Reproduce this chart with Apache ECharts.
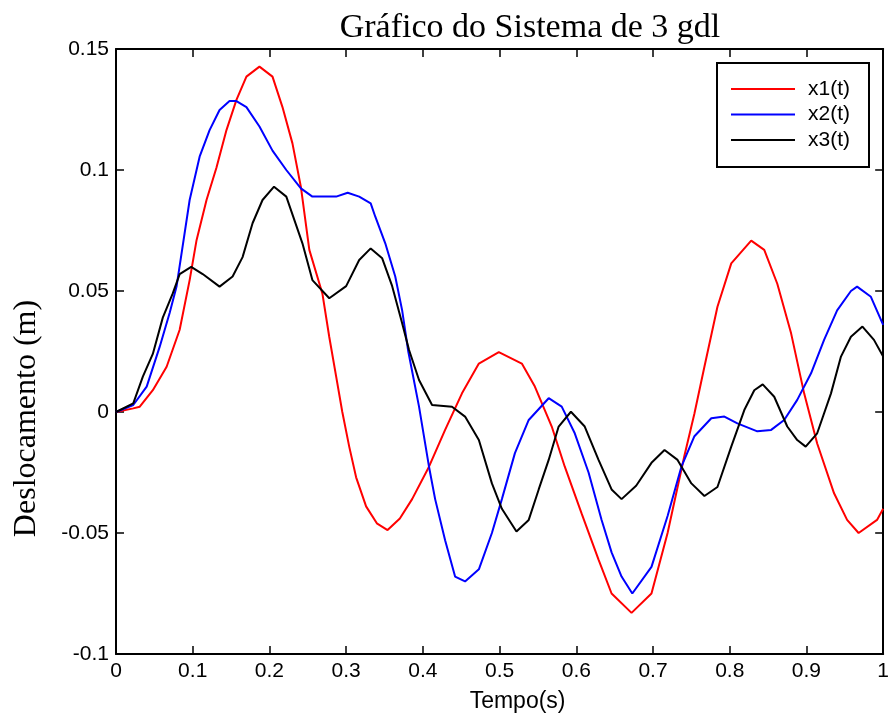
<!DOCTYPE html>
<html><head><meta charset="utf-8">
<script src="https://cdn.jsdelivr.net/npm/echarts@6/dist/echarts.min.js"></script>
<style>html,body{margin:0;padding:0;background:#fff}#c{width:892px;height:719px}</style>
</head><body><div id="c"></div>
<script>
const titleText = "Gráfico do Sistema de 3 gdl";
const xName = "Tempo(s)";
const yName = "Deslocamento (m)";
const seriesNames = ["x1(t)", "x2(t)", "x3(t)"];

const t1 = [0,0.0225,0.031,0.048,0.066,0.083,0.096,0.105,0.118,0.131,0.144,0.157,0.17,0.187,0.204,0.217,0.23,0.241,0.252,0.269,0.278,0.287,0.295,0.304,0.313,0.326,0.34,0.354,0.37,0.386,0.408,0.429,0.451,0.473,0.499,0.529,0.546,0.568,0.585,0.607,0.629,0.646,0.672,0.698,0.719,0.741,0.754,0.767,0.784,0.802,0.828,0.845,0.862,0.88,0.897,0.914,0.936,0.953,0.968,0.992,1.0];
const x1 = [0,0.0015,0.0022,0.009,0.0187,0.034,0.0545,0.071,0.0876,0.101,0.1165,0.129,0.1386,0.1427,0.1386,0.126,0.111,0.093,0.067,0.049,0.031,0.0146,0,-0.0143,-0.027,-0.039,-0.046,-0.0488,-0.044,-0.036,-0.0226,-0.0074,0.0077,0.02,0.0247,0.02,0.0105,-0.006,-0.0226,-0.042,-0.061,-0.075,-0.083,-0.075,-0.05,-0.018,-0.0006,0.0187,0.0435,0.0614,0.0708,0.067,0.053,0.0325,0.0077,-0.013,-0.0336,-0.0446,-0.05,-0.0446,-0.04];

const t2 = [0,0.0225,0.04,0.057,0.07,0.079,0.096,0.109,0.122,0.135,0.148,0.157,0.17,0.187,0.204,0.222,0.241,0.256,0.287,0.302,0.317,0.332,0.338,0.351,0.364,0.373,0.381,0.395,0.408,0.416,0.429,0.442,0.455,0.473,0.49,0.503,0.52,0.538,0.564,0.581,0.598,0.616,0.633,0.646,0.659,0.673,0.698,0.719,0.737,0.754,0.776,0.793,0.81,0.836,0.854,0.871,0.888,0.906,0.923,0.94,0.958,0.966,0.984,1.0];
const x2 = [0,0.0029,0.0105,0.027,0.041,0.052,0.0876,0.1055,0.1165,0.1248,0.1285,0.1285,0.126,0.118,0.108,0.1,0.0924,0.089,0.089,0.0906,0.089,0.0862,0.0807,0.0697,0.056,0.042,0.025,0.0022,-0.0226,-0.036,-0.053,-0.068,-0.07,-0.065,-0.05,-0.036,-0.017,-0.0033,0.0057,0.0022,-0.0088,-0.025,-0.0446,-0.058,-0.068,-0.075,-0.064,-0.043,-0.0226,-0.01,-0.0026,-0.0019,-0.0047,-0.008,-0.0074,-0.0033,0.005,0.016,0.0298,0.042,0.05,0.0518,0.0476,0.036];

const t3 = [0,0.0225,0.035,0.048,0.061,0.074,0.083,0.098,0.113,0.135,0.152,0.165,0.178,0.191,0.206,0.222,0.243,0.256,0.278,0.3,0.317,0.332,0.347,0.36,0.373,0.382,0.395,0.412,0.438,0.455,0.473,0.49,0.503,0.522,0.538,0.551,0.564,0.577,0.593,0.611,0.629,0.646,0.659,0.678,0.698,0.715,0.732,0.75,0.767,0.784,0.802,0.819,0.832,0.843,0.858,0.875,0.888,0.899,0.914,0.932,0.945,0.958,0.973,0.988,1.0];
const x3 = [0,0.0036,0.0146,0.024,0.039,0.049,0.057,0.06,0.057,0.0518,0.056,0.064,0.078,0.0876,0.0931,0.089,0.0697,0.0545,0.047,0.052,0.0628,0.0676,0.0635,0.052,0.0367,0.0256,0.0132,0.0029,0.0022,-0.0019,-0.0116,-0.0295,-0.04,-0.0494,-0.0446,-0.032,-0.0198,-0.006,0.0001,-0.006,-0.0198,-0.032,-0.036,-0.0305,-0.021,-0.0157,-0.0198,-0.0295,-0.0347,-0.031,-0.0143,0.0008,0.009,0.0114,0.0063,-0.006,-0.0116,-0.0143,-0.0088,0.0077,0.0229,0.0311,0.0353,0.0298,0.0229];

const colors = ["#ff0000", "#0000ff", "#000000"];
const pairs = (t, v) => t.map((x, i) => [x, v[i]]);
const data = [pairs(t1, x1), pairs(t2, x2), pairs(t3, x3)];

const sans = "Liberation Sans";
const serif = "Liberation Serif";
const axisCommon = {
  type: 'value',
  axisLine: { show: true, onZero: false, lineStyle: { color: '#000', width: 2 } },
  axisTick: { show: true, inside: true, length: 8, lineStyle: { color: '#000', width: 1.5 } },
  splitLine: { show: false }
};

const chart = echarts.init(document.getElementById('c'), null, { renderer: 'canvas' });
chart.setOption({
  animation: false,
  backgroundColor: '#fff',
  title: {
    text: titleText, left: 525, top: 6, textAlign: 'center',
    textStyle: { fontFamily: serif, fontWeight: 'normal', fontSize: 34, color: '#000' }
  },
  grid: { left: 116, right: 6, top: 49, bottom: 65, show: false },
  legend: {
    left: 717, top: 63, orient: 'vertical',
    data: seriesNames,
    icon: 'rect',
    itemWidth: 64, itemHeight: 2, itemGap: 0.5,
    padding: [13.5, 19, 14.5, 14],
    borderColor: '#000', borderWidth: 2, backgroundColor: '#fff',
    textStyle: { fontFamily: sans, fontSize: 21, lineHeight: 25, color: '#000', padding: [0, 0, 0, 8] }
  },
  xAxis: [
    Object.assign({}, axisCommon, {
      min: 0, max: 1, interval: 0.1, position: 'bottom',
      name: xName, nameLocation: 'middle', nameGap: 36,
      nameTextStyle: { fontFamily: sans, fontSize: 23, color: '#000', padding: [0, 0, 0, 36] },
      axisLabel: { fontFamily: sans, fontSize: 21, color: '#000', margin: 7 }
    }),
    Object.assign({}, axisCommon, {
      min: 0, max: 1, interval: 0.1, position: 'top', axisLabel: { show: false }
    })
  ],
  yAxis: [
    Object.assign({}, axisCommon, {
      min: -0.1, max: 0.15, interval: 0.05, position: 'left',
      name: yName, nameLocation: 'middle', nameGap: 73, nameRotate: 90,
      nameTextStyle: { fontFamily: serif, fontSize: 32, color: '#000', padding: [0, 134, 0, 0] },
      axisLabel: { fontFamily: sans, fontSize: 21, color: '#000', margin: 7 }
    }),
    Object.assign({}, axisCommon, {
      min: -0.1, max: 0.15, interval: 0.05, position: 'right', axisLabel: { show: false }
    })
  ],
  series: seriesNames.map((n, i) => ({
    name: n, type: 'line', data: data[i], symbol: 'none', smooth: false,
    xAxisIndex: 0, yAxisIndex: 0,
    lineStyle: { color: colors[i], width: 2 }, itemStyle: { color: colors[i] }
  }))
});
</script></body></html>
